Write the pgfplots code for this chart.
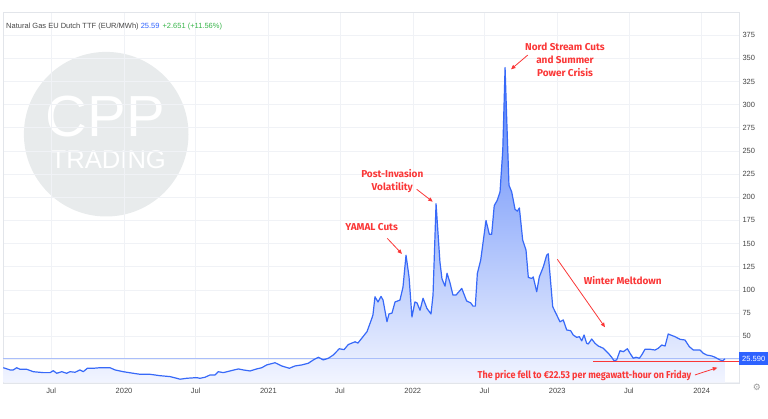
\documentclass[border=0pt]{standalone}
\usepackage{pgfplots}
\pgfplotsset{compat=1.18}
\usepackage{pgfplotstable}
\usepackage{fontspec}
\setmainfont{Liberation Sans}
\newfontfamily\annfont{Fira Sans}
\newfontfamily\symfont{DejaVu Sans}
\usetikzlibrary{arrows.meta}
\definecolor{tvblue}{RGB}{45,98,255}
\definecolor{lineblue}{RGB}{55,105,248}
\definecolor{filltop}{RGB}{85,128,248}
\definecolor{fillbot}{RGB}{242,245,255}
\definecolor{gridgray}{RGB}{240,242,246}
\definecolor{bordergray}{RGB}{226,229,234}
\definecolor{labelgray}{RGB}{70,70,70}
\definecolor{annred}{RGB}{250,55,55}
\definecolor{pricegreen}{RGB}{56,180,74}
\definecolor{wmgray}{RGB}{232,235,236}
\definecolor{priceline}{RGB}{170,190,250}

\pgfplotstableread{
x y
2019.164 16.0
2019.211 13.6
2019.233 13.6
2019.257 16.0
2019.280 14.3
2019.326 14.3
2019.372 11.7
2019.441 10.7
2019.488 10.7
2019.510 12.8
2019.534 10.0
2019.569 11.7
2019.603 10.0
2019.626 11.7
2019.661 11.1
2019.695 13.6
2019.718 11.7
2019.746 15.4
2019.787 15.4
2019.834 16.0
2019.903 16.0
2019.938 13.6
2019.995 11.7
2020.064 10.0
2020.111 8.9
2020.180 8.9
2020.249 7.4
2020.319 6.4
2020.365 4.6
2020.388 3.6
2020.434 4.6
2020.503 5.3
2020.526 4.6
2020.561 5.7
2020.596 8.2
2020.630 8.2
2020.653 11.7
2020.688 10.7
2020.734 12.5
2020.792 14.7
2020.826 13.6
2020.873 12.5
2020.919 14.7
2020.954 16.0
2020.988 19.0
2021.046 21.4
2021.092 17.9
2021.145 15.4
2021.184 17.9
2021.231 19.0
2021.276 20.8
2021.311 24.4
2021.346 27.3
2021.380 24.4
2021.415 26.2
2021.449 29.7
2021.491 36.5
2021.524 35.5
2021.553 41.0
2021.600 44.0
2021.620 42.6
2021.655 49.5
2021.683 55.0
2021.717 69.6
2021.724 73.0
2021.738 92.6
2021.759 87.0
2021.780 93.0
2021.794 89.0
2021.821 65.6
2021.835 74.0
2021.856 75.0
2021.877 87.0
2021.911 89.0
2021.932 103.0
2021.953 137.5
2021.974 114.0
2021.994 70.7
2022.015 87.0
2022.029 86.0
2022.050 78.0
2022.071 91.0
2022.098 80.0
2022.126 74.0
2022.140 94.4
2022.161 193.0
2022.188 130.0
2022.202 112.0
2022.223 104.0
2022.237 118.0
2022.257 108.0
2022.278 94.4
2022.299 94.4
2022.339 101.6
2022.373 88.0
2022.401 86.0
2022.417 82.5
2022.433 82.5
2022.447 117.8
2022.470 132.0
2022.507 175.0
2022.530 160.0
2022.546 160.0
2022.564 191.0
2022.585 196.8
2022.604 205.7
2022.623 250.6
2022.639 340.0
2022.650 286.5
2022.666 213.0
2022.685 205.7
2022.708 187.0
2022.724 185.0
2022.738 188.5
2022.761 153.7
2022.784 143.0
2022.800 113.5
2022.823 112.4
2022.834 114.0
2022.858 98.0
2022.876 114.0
2022.904 125.0
2022.927 137.5
2022.938 139.0
2022.969 81.8
2022.997 72.8
2023.019 65.6
2023.042 67.5
2023.066 56.7
2023.093 56.0
2023.111 51.3
2023.135 48.8
2023.153 49.5
2023.170 45.0
2023.186 51.3
2023.204 42.3
2023.215 41.6
2023.239 47.0
2023.262 42.3
2023.285 39.4
2023.319 37.0
2023.354 31.6
2023.377 27.3
2023.393 23.6
2023.412 24.4
2023.435 34.4
2023.458 33.3
2023.486 36.5
2023.504 31.6
2023.527 26.2
2023.546 27.3
2023.569 26.2
2023.585 29.7
2023.608 35.9
2023.643 35.9
2023.677 35.1
2023.700 37.0
2023.724 40.5
2023.747 39.4
2023.769 52.4
2023.786 51.3
2023.816 49.5
2023.850 46.7
2023.885 45.9
2023.915 38.7
2023.943 35.1
2023.966 35.1
2023.989 35.1
2024.012 31.6
2024.035 29.7
2024.070 28.7
2024.093 27.3
2024.127 24.4
2024.146 23.6
2024.162 25.59
}\ttf

\begin{document}
\begin{tikzpicture}[x=1pt,y=1pt]
\useasboundingbox (-3,-35) rectangle (765,383);
% watermark
\fill[wmgray] (103.2,248.8) circle (82.3);
\node[white, anchor=base, inner sep=0pt, font=\fontsize{58}{58}\selectfont] at (102.5,246.3) {CPP};
\node[white, anchor=base, inner sep=0pt, font=\fontsize{25.6}{26}\selectfont] at (105.3,214.7) {TRADING};

\begin{axis}[
  at={(0,0)}, anchor=south west,
  scale only axis, width=736pt, height=371pt,
  xmin=2019.162, xmax=2024.259, ymin=-0.5, ymax=400,
  clip=false,
  axis line style={draw=bordergray},
  ytick={0,25,50,75,100,125,150,175,200,225,250,275,300,325,350,375},
  yticklabels={,,50,75,100,125,150,175,200,225,250,275,300,325,350,375},
  yticklabel pos=right,
  y tick label style={anchor=west, xshift=0pt},
  xtick={2019.496,2020,2020.497,2021,2021.496,2022,2022.496,2023,2023.496,2024},
  xticklabels={Jul,2020,Jul,2021,Jul,2022,Jul,2023,Jul,2024},
  x tick label style={yshift=-2pt},
  major tick length=0pt,
  grid=major, major grid style={draw=gridgray, line width=0.6pt},
  tick label style={font=\fontsize{7.5}{9}\selectfont, text=labelgray},
  /pgf/number format/assume math mode=true,
]
\addplot[draw=none, top color=filltop, bottom color=fillbot, forget plot] table {\ttf} \closedcycle;
\addplot[priceline, line width=0.7pt] coordinates {(2019.162,25.59) (2024.259,25.59)};
\addplot[annred, line width=0.8pt] coordinates {(2023.249,22.53) (2024.259,22.53)};
\addplot[lineblue, line width=1.2pt, line join=round] table {\ttf};

% price label
\node[fill=tvblue, text=white, anchor=west, inner sep=1.2pt, minimum height=13pt, minimum width=29pt,
  font=\fontsize{7.5}{9}\selectfont] at (axis cs:2024.259,25.59) {25.590};

% annotations
\begin{scope}[every node/.style={text=annred, font=\annfont\bfseries\fontsize{10}{13}\selectfont, align=center, inner sep=0pt}]
\node at (axis cs:2023.054,347.9) {Nord Stream Cuts\\and Summer\\Power Crisis};
\node at (axis cs:2021.858,217.2) {Post-Invasion\\Volatility};
\node at (axis cs:2021.715,167.6) {YAMAL Cuts};
\node at (axis cs:2023.454,109.9) {Winter Meltdown};
\node at (axis cs:2023.189,7.1) {\scalebox{0.9}[1]{The price fell to €22.53 per megawatt-hour on Friday}};
\end{scope}
\begin{scope}[annred, line width=0.8pt, -{Triangle[length=4.5pt,width=3.8pt]}]
\draw (axis cs:2022.796,353.5) -- (axis cs:2022.680,338.1);
\draw (axis cs:2022.027,208.6) -- (axis cs:2022.138,195.2);
\draw (axis cs:2021.823,155.7) -- (axis cs:2021.925,138.8);
\draw (axis cs:2023.001,133.0) -- (axis cs:2023.331,59.7);
\draw (axis cs:2023.954,8.2) -- (axis cs:2024.109,16.1);
\end{scope}
\end{axis}

% title
\node[anchor=west, inner sep=0pt, font=\fontsize{7.5}{9}\selectfont, text=labelgray] at (3,356.3)
  {Natural Gas EU Dutch TTF (EUR/MWh) \textcolor{tvblue}{25.59}\hspace{0.4em}\textcolor{pricegreen}{+2.651 (+11.56\%)}};
% gear
\node[text=gray!80, font=\symfont\fontsize{9}{9}\selectfont, inner sep=0pt] at (754,-4) {⚙};
\end{tikzpicture}
\end{document}
